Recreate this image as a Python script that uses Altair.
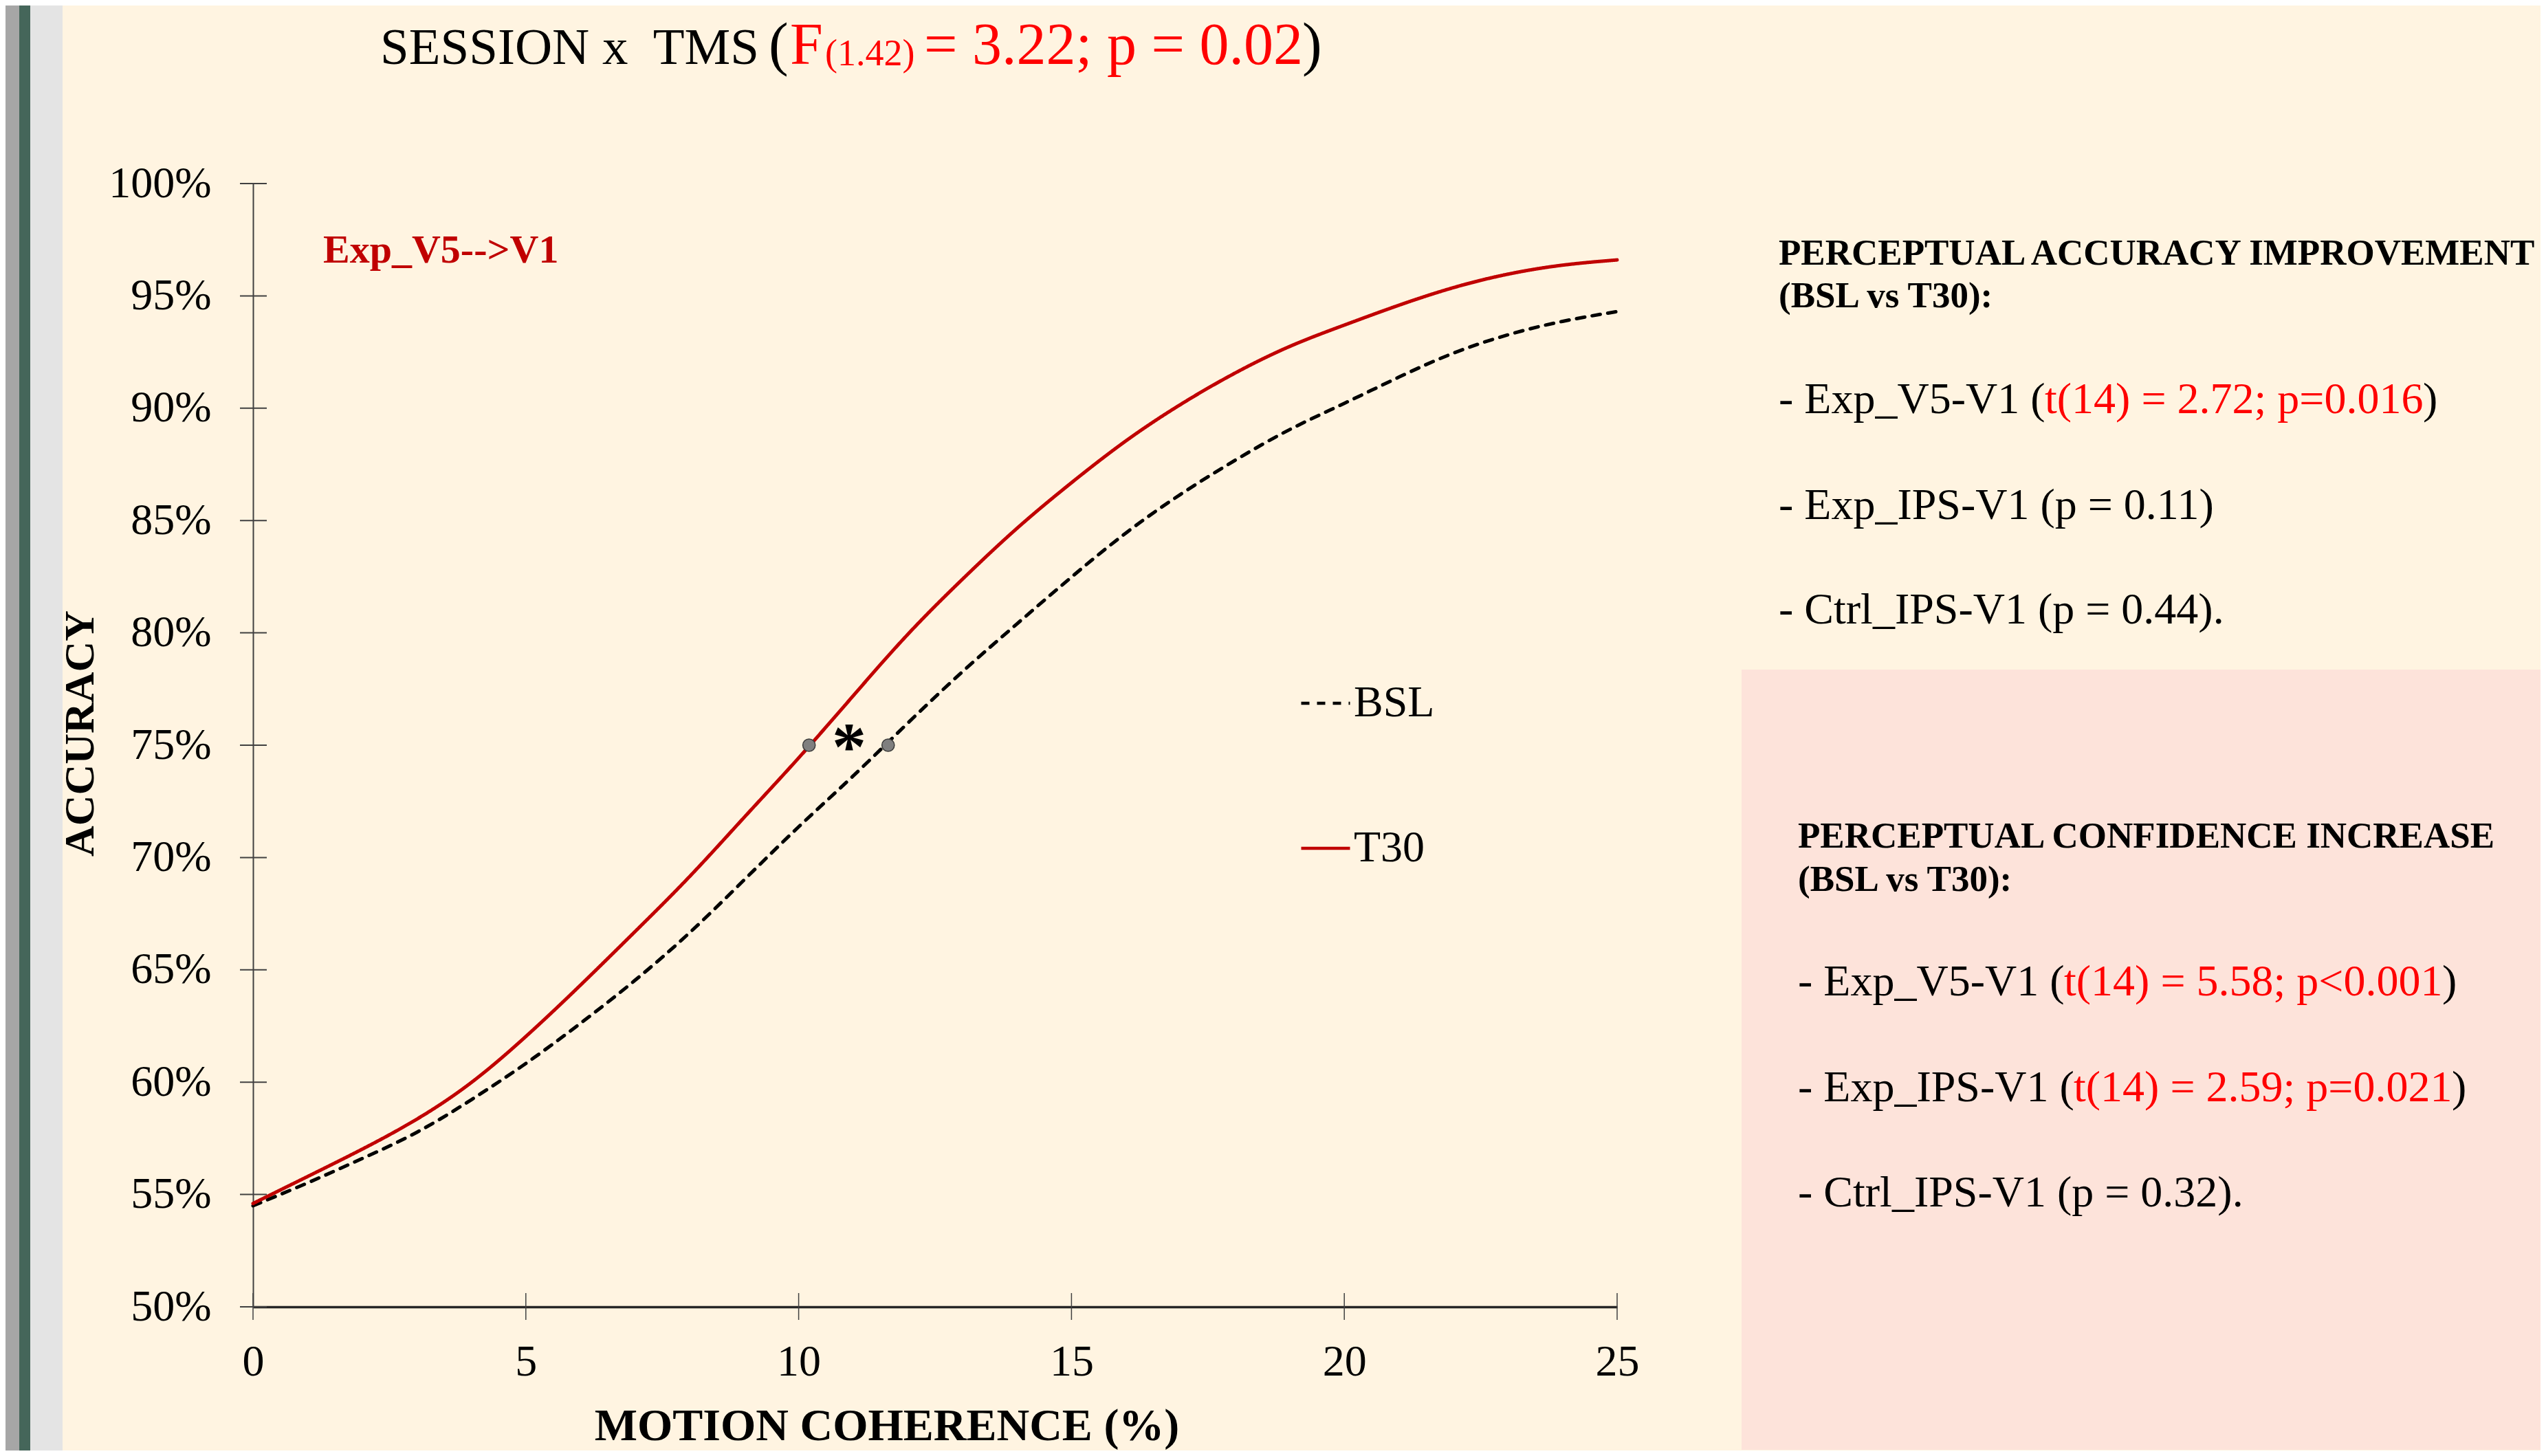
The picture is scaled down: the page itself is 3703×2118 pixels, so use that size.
import altair as alt
import pandas as pd

# ---------------- data ----------------
coherence = list(range(0, 26))
bsl = [54.5, 55.5, 56.6, 57.7, 59.2, 60.8, 62.6, 64.5, 66.6, 69.0, 71.4, 73.6, 76.0,
       78.3, 80.4, 82.5, 84.5, 86.2, 87.7, 89.1, 90.2, 91.4, 92.5, 93.3, 93.9, 94.3]
t30 = [54.6, 55.8, 57.0, 58.3, 59.9, 62.0, 64.3, 66.7, 69.1, 71.8, 74.4, 77.2, 80.0,
       82.4, 84.7, 86.7, 88.6, 90.2, 91.6, 92.8, 93.7, 94.6, 95.4, 96.0, 96.4, 96.6]
sessions = ["BSL", "T30"]
x_ticks = [0, 5, 10, 15, 20, 25]
y_ticks = [50, 55, 60, 65, 70, 75, 80, 85, 90, 95, 100]
threshold_x = [10.19, 11.64]
threshold_y = [75, 75]

FONT = "Liberation Serif"
W, H = 1984, 1634
PAD = {"left": 360, "top": 259, "right": 1343, "bottom": 209}
RED = "#FF0000"
DARKRED = "#C00000"

one = alt.Data(values=[{"k": 0}])

df = pd.DataFrame({
    "coherence": coherence + coherence,
    "accuracy": bsl + t30,
    "session": ["BSL"] * len(bsl) + ["T30"] * len(t30),
})


def rect(x, x2, y, y2, color):
    return alt.Chart(one).mark_rect(color=color).encode(
        x=alt.value(x), x2=alt.value(x2), y=alt.value(y), y2=alt.value(y2))


def label(text, x, y, size, color="black", weight="normal", align="left",
          baseline="alphabetic", angle=0):
    kw = dict(font=FONT, fontSize=size, color=color, fontWeight=weight,
              align=align, baseline=baseline)
    if angle:
        kw["angle"] = angle
    return alt.Chart(one).mark_text(**kw).encode(
        x=alt.value(x), y=alt.value(y), text=alt.value(text))


x_scale = alt.Scale(domain=[0, 25], nice=False, zero=False)
y_scale = alt.Scale(domain=[50, 100], nice=False, zero=False)
x_axis = alt.Axis(values=x_ticks, title=None, grid=False, ticks=False, tickSize=0,
                  domainColor="#262626", domainWidth=3.5, labelFont=FONT,
                  labelFontSize=64, labelColor="black", labelPadding=99,
                  labelBaseline="alphabetic", labelFlush=False)
y_axis = alt.Axis(values=y_ticks, labelExpr="datum.value + '%'", title=None,
                  grid=False, ticks=False, tickSize=0, domainColor="#404040",
                  domainWidth=2, labelFont=FONT, labelFontSize=64,
                  labelColor="black", labelPadding=61, labelFlush=False)

backgrounds = [
    rect(-360, -340, -259, H + 209, "#a6a6a6"),
    rect(-340, -324, -259, H + 209, "#45665a"),
    rect(-324, -277, -259, H + 209, "#e4e4e4"),
    rect(2165, 3327, 707, 1842, "#fde3da"),
]

leg = alt.Legend(orient="none", legendX=1522, legendY=718, title=None,
                 symbolType="stroke", symbolSize=5041, symbolStrokeWidth=4.5,
                 labelFont=FONT, labelFontSize=64, labelColor="black",
                 labelOffset=3, rowPadding=141, padding=0)

lines = alt.Chart(df).mark_line(strokeWidth=5, interpolate="basis", strokeCap="round").encode(
    x=alt.X("coherence:Q", scale=x_scale, axis=x_axis),
    y=alt.Y("accuracy:Q", scale=y_scale, axis=y_axis),
    color=alt.Color("session:N", scale=alt.Scale(domain=sessions, range=["#000000", DARKRED]),
                    legend=leg),
    strokeDash=alt.StrokeDash("session:N", scale=alt.Scale(domain=sessions, range=[[12, 11], [1, 0]]),
                              legend=leg),
)

ytick = alt.Chart(pd.DataFrame({"accuracy": y_ticks})).mark_rule(color="#404040", strokeWidth=2).encode(
    y=alt.Y("accuracy:Q", scale=y_scale, axis=y_axis), x=alt.value(-19), x2=alt.value(20))
xtick = alt.Chart(pd.DataFrame({"coherence": x_ticks})).mark_rule(color="#404040", strokeWidth=1.5).encode(
    x=alt.X("coherence:Q", scale=x_scale, axis=x_axis), y=alt.value(H - 20), y2=alt.value(H + 19))

pts = alt.Chart(pd.DataFrame({"coherence": threshold_x, "accuracy": threshold_y})).mark_point(
    shape="circle", filled=True, fill="#7f7f7f", stroke="#3a3a3a", strokeWidth=1.5,
    size=330, opacity=1).encode(x=alt.X("coherence:Q", scale=x_scale, axis=x_axis),
                                y=alt.Y("accuracy:Q", scale=y_scale, axis=y_axis))

texts = [
    # title
    label("SESSION x\u00a0 TMS", 185, -174, 75),
    label("(", 750, -174, 86),
    label("F", 781, -174, 86, RED),
    label("(1.42)", 832, -172, 54, RED),
    label("= 3.22; p = 0.02", 976, -174, 86, RED),
    label(")", 1526, -174, 86),
    # in-plot annotations
    label("Exp_V5-->V1", 102, 115, 58, DARKRED, "bold"),
    label("*", 867, 852, 100, weight="bold", align="center"),
    # axis titles
    label("ACCURACY", -232, 800, 62, weight="bold", align="center", angle=270),
    label("MOTION COHERENCE (%)", 922, 1828, 66, weight="bold", align="center"),
    # block 1
    label("PERCEPTUAL ACCURACY IMPROVEMENT", 2219, 118, 53, weight="bold"),
    label("(BSL vs T30):", 2219, 180, 53, weight="bold"),
    label("- Exp_V5-V1 (", 2219, 334, 64),
    label("t(14) = 2.72; p=0.016", 2606, 334, 64, RED),
    label(")", 3156, 334, 64),
    label("- Exp_IPS-V1 (p = 0.11)", 2219, 488, 64),
    label("- Ctrl_IPS-V1 (p = 0.44).", 2219, 640, 64),
    # block 2
    label("PERCEPTUAL CONFIDENCE INCREASE", 2247, 966, 53, weight="bold"),
    label("(BSL vs T30):", 2247, 1029, 53, weight="bold"),
    label("- Exp_V5-V1 (", 2247, 1181, 64),
    label("t(14) = 5.58; p<0.001", 2634, 1181, 64, RED),
    label(")", 3184, 1181, 64),
    label("- Exp_IPS-V1 (", 2247, 1335, 64),
    label("t(14) = 2.59; p=0.021", 2648, 1335, 64, RED),
    label(")", 3198, 1335, 64),
    label("- Ctrl_IPS-V1 (p = 0.32).", 2247, 1488, 64),
]

chart = alt.layer(*backgrounds, xtick, ytick, lines, pts, *texts).properties(
    width=W, height=H, background="#fff4e1", padding=PAD,
    autosize=alt.AutoSizeParams(type="none"),
).configure_view(strokeWidth=0)

chart.save("out.html", embed_options={"renderer": "svg", "actions": False})
